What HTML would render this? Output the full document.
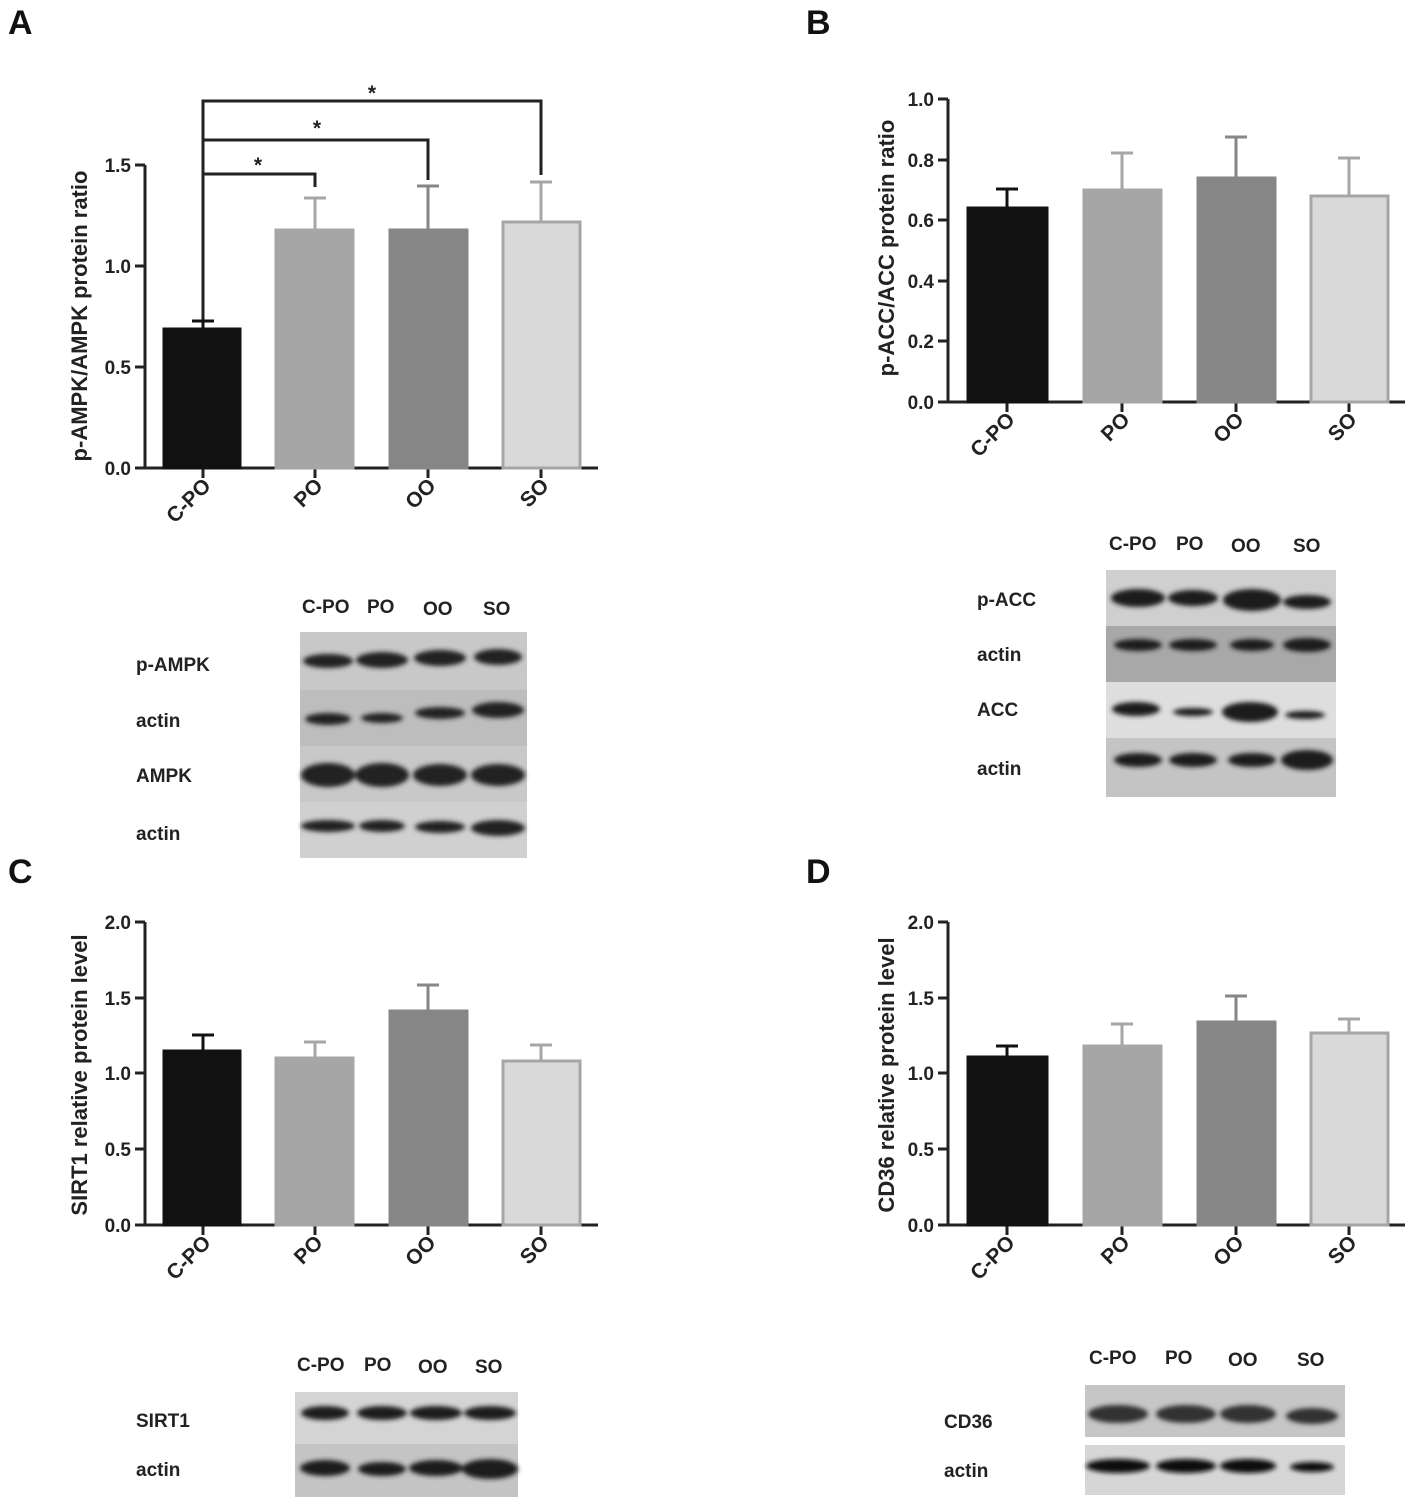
<!DOCTYPE html>
<html><head><meta charset="utf-8"><style>
html,body{margin:0;padding:0;background:#fff}
svg{display:block}
text{font-family:"Liberation Sans",Arial,sans-serif;font-weight:bold;fill:#222}
.t{font-size:19px}
.yl{font-size:22px}
.xl{font-size:21px}
.pl{font-size:34px;fill:#111}
.bl{font-size:19px}
</style></head><body>
<svg width="1418" height="1502" viewBox="0 0 1418 1502" xmlns="http://www.w3.org/2000/svg">
<defs>
<filter id="bf" x="-30%" y="-100%" width="160%" height="300%"><feGaussianBlur stdDeviation="2.5"/></filter>
</defs>
<g stroke="#222" stroke-width="3" fill="none">
<path d="M145,165 V468 H598"/>
<path d="M135,165H145M135,266H145M135,367H145M135,468H145"/>
<path d="M203,468v10M315,468v10M428,468v10M541,468v10"/>
<path d="M948,99 V402 H1405"/>
<path d="M938,99H948M938,160H948M938,220H948M938,281H948M938,341H948M938,402H948"/>
<path d="M1007,402v10M1122,402v10M1236,402v10M1349,402v10"/>
<path d="M145,922 V1225 H598"/>
<path d="M135,922H145M135,998H145M135,1073H145M135,1149H145M135,1225H145"/>
<path d="M203,1225v10M315,1225v10M428,1225v10M541,1225v10"/>
<path d="M948,922 V1225 H1405"/>
<path d="M938,922H948M938,998H948M938,1073H948M938,1149H948M938,1225H948"/>
<path d="M1007,1225v10M1122,1225v10M1236,1225v10M1349,1225v10"/>
<path d="M203,321 V174 H315 V187"/>
<path d="M203,174 V140 H428 V180"/>
<path d="M203,140 V101 H541 V175"/>
</g>
<g stroke-width="3">
<path d="M203,329V321M192,321H214" stroke="#111"/>
<rect x="164" y="329" width="76" height="139" fill="#111" stroke="#111"/>
<path d="M315,230V198M304,198H326" stroke="#a6a6a6"/>
<rect x="276" y="230" width="77" height="238" fill="#a6a6a6" stroke="#a6a6a6"/>
<path d="M428,230V186M417,186H439" stroke="#868686"/>
<rect x="390" y="230" width="77" height="238" fill="#868686" stroke="#868686"/>
<path d="M541,222V182M530,182H552" stroke="#a6a6a6"/>
<rect x="503" y="222" width="77" height="246" fill="#d9d9d9" stroke="#a6a6a6"/>
</g>
<g stroke-width="3">
<path d="M1007,208V189M996,189H1018" stroke="#111"/>
<rect x="968" y="208" width="79" height="194" fill="#111" stroke="#111"/>
<path d="M1122,190V153M1111,153H1133" stroke="#a6a6a6"/>
<rect x="1084" y="190" width="77" height="212" fill="#a6a6a6" stroke="#a6a6a6"/>
<path d="M1236,178V137M1225,137H1247" stroke="#868686"/>
<rect x="1198" y="178" width="77" height="224" fill="#868686" stroke="#868686"/>
<path d="M1349,196V158M1338,158H1360" stroke="#a6a6a6"/>
<rect x="1311" y="196" width="77" height="206" fill="#d9d9d9" stroke="#a6a6a6"/>
</g>
<g stroke-width="3">
<path d="M203,1051V1035M192,1035H214" stroke="#111"/>
<rect x="164" y="1051" width="76" height="174" fill="#111" stroke="#111"/>
<path d="M315,1058V1042M304,1042H326" stroke="#a6a6a6"/>
<rect x="276" y="1058" width="77" height="167" fill="#a6a6a6" stroke="#a6a6a6"/>
<path d="M428,1011V985M417,985H439" stroke="#868686"/>
<rect x="390" y="1011" width="77" height="214" fill="#868686" stroke="#868686"/>
<path d="M541,1061V1045M530,1045H552" stroke="#a6a6a6"/>
<rect x="503" y="1061" width="77" height="164" fill="#d9d9d9" stroke="#a6a6a6"/>
</g>
<g stroke-width="3">
<path d="M1007,1057V1046M996,1046H1018" stroke="#111"/>
<rect x="968" y="1057" width="79" height="168" fill="#111" stroke="#111"/>
<path d="M1122,1046V1024M1111,1024H1133" stroke="#a6a6a6"/>
<rect x="1084" y="1046" width="77" height="179" fill="#a6a6a6" stroke="#a6a6a6"/>
<path d="M1236,1022V996M1225,996H1247" stroke="#868686"/>
<rect x="1198" y="1022" width="77" height="203" fill="#868686" stroke="#868686"/>
<path d="M1349,1033V1019M1338,1019H1360" stroke="#a6a6a6"/>
<rect x="1311" y="1033" width="77" height="192" fill="#d9d9d9" stroke="#a6a6a6"/>
</g>
<text x="258" y="172" class="xl" text-anchor="middle">*</text>
<text x="317" y="135" class="xl" text-anchor="middle">*</text>
<text x="372" y="100" class="xl" text-anchor="middle">*</text>
<text x="8" y="34" class="pl">A</text>
<text x="806" y="34" class="pl">B</text>
<text x="8" y="883" class="pl">C</text>
<text x="806" y="883" class="pl">D</text>
<g class="t" text-anchor="end">
<text x="131" y="172">1.5</text><text x="131" y="273">1.0</text><text x="131" y="374">0.5</text><text x="131" y="475">0.0</text>
<text x="934" y="106">1.0</text><text x="934" y="167">0.8</text><text x="934" y="227">0.6</text><text x="934" y="288">0.4</text><text x="934" y="348">0.2</text><text x="934" y="409">0.0</text>
<text x="131" y="929">2.0</text><text x="131" y="1005">1.5</text><text x="131" y="1080">1.0</text><text x="131" y="1156">0.5</text><text x="131" y="1232">0.0</text>
<text x="934" y="929">2.0</text><text x="934" y="1005">1.5</text><text x="934" y="1080">1.0</text><text x="934" y="1156">0.5</text><text x="934" y="1232">0.0</text>
</g>
<text class="yl" transform="translate(87,316) rotate(-90)" text-anchor="middle">p-AMPK/AMPK protein ratio</text>
<text class="yl" transform="translate(894,248) rotate(-90)" text-anchor="middle">p-ACC/ACC protein ratio</text>
<text class="yl" transform="translate(87,1075) rotate(-90)" text-anchor="middle">SIRT1 relative protein level</text>
<text class="yl" transform="translate(894,1075) rotate(-90)" text-anchor="middle">CD36 relative protein level</text>
<g class="xl" text-anchor="end">
<text transform="translate(212,487) rotate(-45)">C-PO</text>
<text transform="translate(324,487) rotate(-45)">PO</text>
<text transform="translate(437,487) rotate(-45)">OO</text>
<text transform="translate(550,487) rotate(-45)">SO</text>
<text transform="translate(1016,421) rotate(-45)">C-PO</text>
<text transform="translate(1131,421) rotate(-45)">PO</text>
<text transform="translate(1245,421) rotate(-45)">OO</text>
<text transform="translate(1358,421) rotate(-45)">SO</text>
<text transform="translate(212,1244) rotate(-45)">C-PO</text>
<text transform="translate(324,1244) rotate(-45)">PO</text>
<text transform="translate(437,1244) rotate(-45)">OO</text>
<text transform="translate(550,1244) rotate(-45)">SO</text>
<text transform="translate(1016,1244) rotate(-45)">C-PO</text>
<text transform="translate(1131,1244) rotate(-45)">PO</text>
<text transform="translate(1245,1244) rotate(-45)">OO</text>
<text transform="translate(1358,1244) rotate(-45)">SO</text>
</g>
<rect x="300" y="632" width="227" height="226" fill="#c8c8c8"/>
<rect x="300" y="690" width="227" height="56" fill="#bdbdbd"/>
<rect x="300" y="802" width="227" height="56" fill="#d0d0d0"/>
<g fill="#222" filter="url(#bf)">
<ellipse cx="328" cy="661" rx="25" ry="7"/><ellipse cx="382" cy="660" rx="26" ry="8"/><ellipse cx="440" cy="658" rx="26" ry="8"/><ellipse cx="498" cy="657" rx="24" ry="8"/>
<ellipse cx="328" cy="719" rx="23" ry="6"/><ellipse cx="382" cy="718" rx="21" ry="5"/><ellipse cx="440" cy="713" rx="25" ry="6"/><ellipse cx="498" cy="710" rx="26" ry="8"/>
<ellipse cx="328" cy="775" rx="27" ry="12"/><ellipse cx="382" cy="775" rx="27" ry="12"/><ellipse cx="440" cy="775" rx="27" ry="11"/><ellipse cx="498" cy="775" rx="27" ry="11"/>
<ellipse cx="328" cy="826" rx="27" ry="6"/><ellipse cx="382" cy="826" rx="23" ry="6"/><ellipse cx="440" cy="827" rx="25" ry="6"/><ellipse cx="498" cy="828" rx="27" ry="8"/>
</g>
<g class="bl">
<text x="302" y="613">C-PO</text><text x="367" y="613">PO</text><text x="423" y="615">OO</text><text x="483" y="615">SO</text>
<text x="136" y="671">p-AMPK</text><text x="136" y="727">actin</text><text x="136" y="782">AMPK</text><text x="136" y="840">actin</text>
</g>
<rect x="1106" y="570" width="230" height="227" fill="#cfcfcf"/>
<rect x="1106" y="626" width="230" height="56" fill="#a8a8a8"/>
<rect x="1106" y="682" width="230" height="56" fill="#dedede"/>
<rect x="1106" y="738" width="230" height="59" fill="#c4c4c4"/>
<g fill="#1a1a1a" filter="url(#bf)">
<ellipse cx="1138" cy="598" rx="27" ry="9"/><ellipse cx="1193" cy="598" rx="25" ry="8"/><ellipse cx="1252" cy="600" rx="29" ry="11"/><ellipse cx="1307" cy="602" rx="24" ry="7"/>
<ellipse cx="1138" cy="645" rx="24" ry="6"/><ellipse cx="1193" cy="645" rx="24" ry="6"/><ellipse cx="1252" cy="645" rx="22" ry="6"/><ellipse cx="1307" cy="645" rx="24" ry="7"/>
<ellipse cx="1136" cy="709" rx="24" ry="7"/><ellipse cx="1193" cy="712" rx="20" ry="4"/><ellipse cx="1250" cy="712" rx="28" ry="10"/><ellipse cx="1305" cy="715" rx="20" ry="4"/>
<ellipse cx="1138" cy="760" rx="24" ry="7"/><ellipse cx="1193" cy="760" rx="24" ry="7"/><ellipse cx="1252" cy="760" rx="24" ry="7"/><ellipse cx="1307" cy="760" rx="26" ry="10"/>
</g>
<g class="bl">
<text x="1109" y="550">C-PO</text><text x="1176" y="550">PO</text><text x="1231" y="552">OO</text><text x="1293" y="552">SO</text>
<text x="977" y="606">p-ACC</text><text x="977" y="661">actin</text><text x="977" y="716">ACC</text><text x="977" y="775">actin</text>
</g>
<rect x="295" y="1392" width="223" height="105" fill="#d4d4d4"/>
<rect x="295" y="1444" width="223" height="53" fill="#c4c4c4"/>
<g fill="#1a1a1a" filter="url(#bf)">
<ellipse cx="325" cy="1413" rx="24" ry="7"/><ellipse cx="382" cy="1413" rx="25" ry="7"/><ellipse cx="436" cy="1413" rx="26" ry="7"/><ellipse cx="490" cy="1413" rx="26" ry="7"/>
<ellipse cx="325" cy="1468" rx="25" ry="8"/><ellipse cx="382" cy="1469" rx="24" ry="7"/><ellipse cx="436" cy="1468" rx="27" ry="8"/><ellipse cx="490" cy="1469" rx="28" ry="10"/>
</g>
<g class="bl">
<text x="297" y="1371">C-PO</text><text x="364" y="1371">PO</text><text x="418" y="1373">OO</text><text x="475" y="1373">SO</text>
<text x="136" y="1427">SIRT1</text><text x="136" y="1476">actin</text>
</g>
<rect x="1085" y="1385" width="260" height="52" fill="#c6c6c6"/>
<rect x="1085" y="1445" width="260" height="50" fill="#d6d6d6"/>
<g fill="#333" filter="url(#bf)">
<ellipse cx="1118" cy="1414" rx="30" ry="9"/><ellipse cx="1186" cy="1414" rx="30" ry="9"/><ellipse cx="1248" cy="1414" rx="28" ry="9"/><ellipse cx="1312" cy="1416" rx="26" ry="8"/>
</g>
<g fill="#111" filter="url(#bf)">
<ellipse cx="1118" cy="1466" rx="32" ry="7"/><ellipse cx="1186" cy="1466" rx="30" ry="7"/><ellipse cx="1248" cy="1466" rx="28" ry="7"/><ellipse cx="1312" cy="1467" rx="22" ry="5"/>
</g>
<g class="bl">
<text x="1089" y="1364">C-PO</text><text x="1165" y="1364">PO</text><text x="1228" y="1366">OO</text><text x="1297" y="1366">SO</text>
<text x="944" y="1428">CD36</text><text x="944" y="1477">actin</text>
</g>
</svg>
</body></html>
